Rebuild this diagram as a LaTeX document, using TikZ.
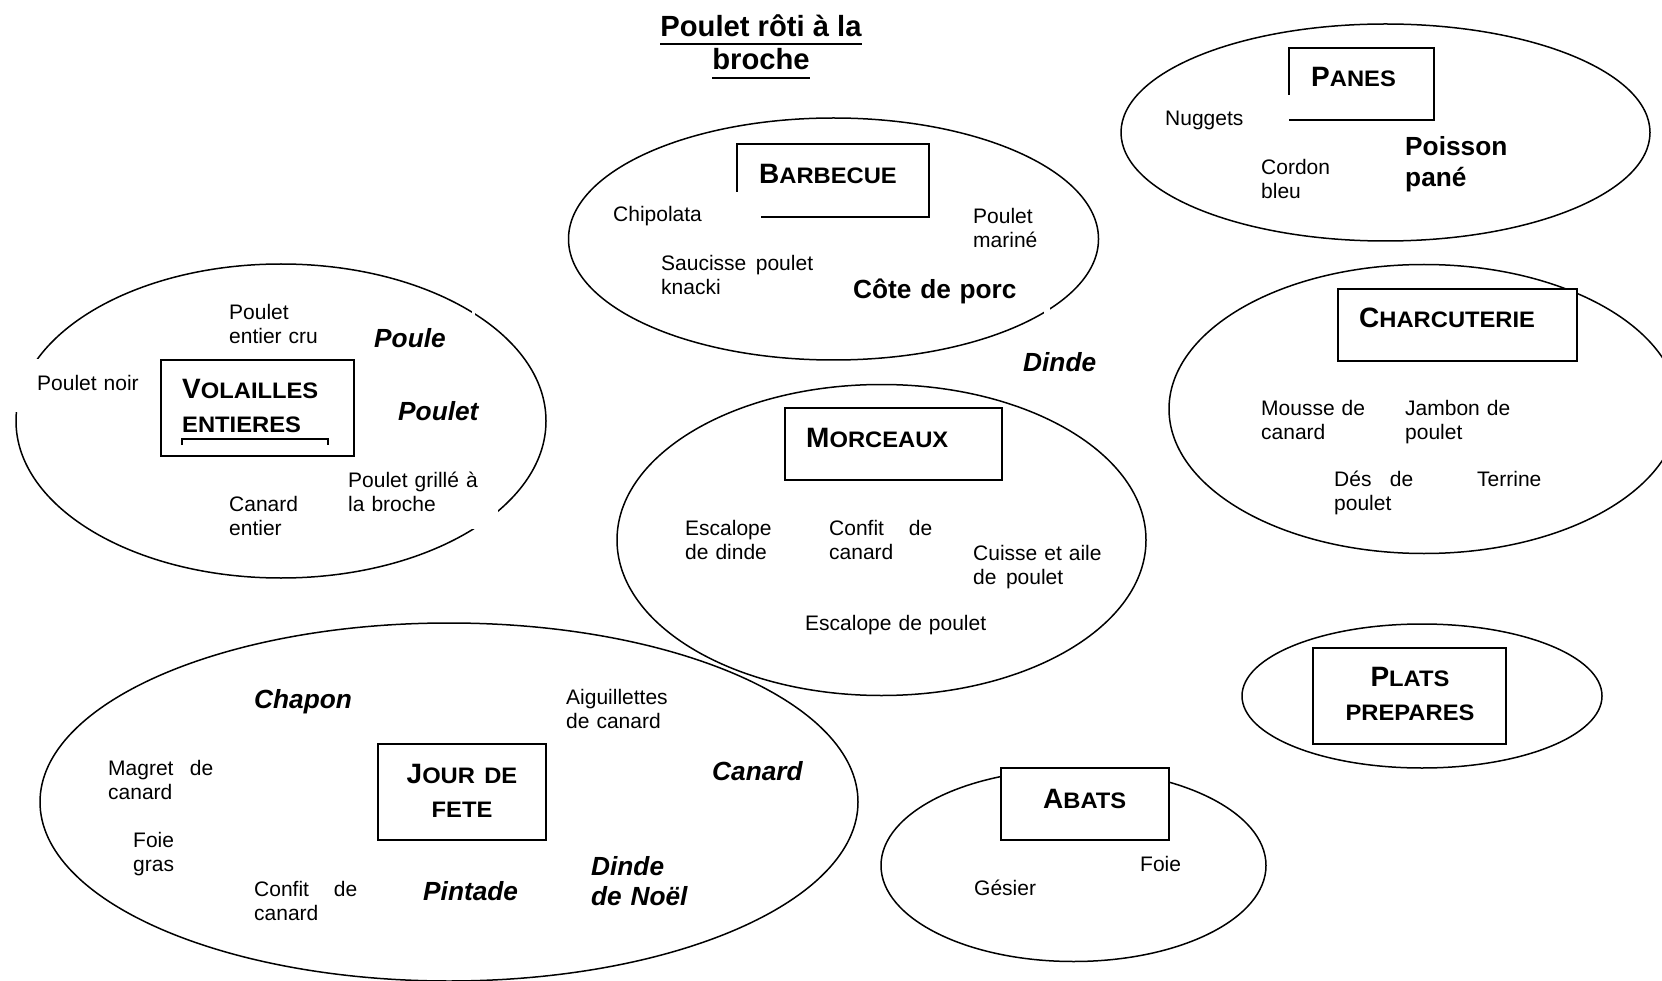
\documentclass[tikz,border=0pt]{standalone}
\usepackage{fontspec}
\setmainfont{Liberation Sans}
\newfontfamily\scf{Liberation Sans}[FakeStretch=1.06]
\usetikzlibrary{shapes.geometric}
\newcommand\hcap[2]{{\fontsize{28}{34.5}\selectfont #1}{\scf\fontsize{22.4}{34.5}\selectfont #2}}
\newcommand\hsmall[1]{{\scf\fontsize{22.4}{34.5}\selectfont #1}}
\tikzset{
  grp/.style={ellipse, draw, line width=1.5pt, inner sep=0pt},
  boxs/.style={draw, fill=white, line width=2pt, inner sep=0pt},
  boxopen/.style={fill=white, inner sep=0pt},
  txt/.style={anchor=base west, inner sep=0pt, align=left, text width=230pt, font=\fontsize{21}{24}\selectfont},
  bd/.style={txt, font=\fontsize{26.25}{30.5}\selectfont\bfseries},
  bi/.style={txt, font=\fontsize{26.25}{30.5}\selectfont\bfseries\itshape},
  hd/.style={anchor=base west, inner sep=0pt, align=left, text width=280pt, font=\bfseries\fontsize{28}{34.5}\selectfont},
  hdc/.style={anchor=base, inner sep=0pt, align=center, text width=220pt, font=\bfseries\fontsize{28}{34.5}\selectfont},
  ttl/.style={anchor=base, inner sep=0pt, font=\fontsize{29.2}{33}\selectfont\bfseries},
  uline/.style={line width=2.4pt},
  gap/.style={white}
}
\begin{document}
\begin{tikzpicture}[x=1pt,y=-1pt]
\fill[white] (0,0) rectangle (1662,981);
\useasboundingbox (0,0) rectangle (1662,981);

% ---------- groups (ellipses)
\node[grp, minimum width=530pt, minimum height=314pt] (evol) at (281,421) {};
\node[grp, minimum width=530pt, minimum height=242pt] (ebbq) at (833.5,239) {};
\node[grp, minimum width=529pt, minimum height=311pt] (emor) at (881.5,540) {};
\node[grp, minimum width=529pt, minimum height=217pt] (epan) at (1385.5,132.5) {};
\node[grp, minimum width=510pt, minimum height=289pt] (echa) at (1424,409) {};
\node[grp, minimum width=360pt, minimum height=144pt] (epla) at (1422,696) {};
\node[grp, minimum width=385pt, minimum height=192pt] (eaba) at (1073.5,865.5) {};
\node[grp, minimum width=818pt, minimum height=358pt] (ejou) at (449,802) {};

% ---------- gaps left by white text boxes
\fill[gap] (0,359) rectangle (150,412);
\fill[gap] (340,470) rectangle (498,529);
\fill[gap] (472,300) rectangle (474.5,320);
\fill[gap] (1044,300) rectangle (1050,320);

% ---------- title boxes
\node[boxs, minimum width=193pt, minimum height=96pt] (bvol) at (257.5,408) {};
\node[boxopen, minimum width=192pt, minimum height=73pt] (bbbq) at (833,180.5) {};
\draw[line width=2pt] (bbbq.north west) ++(0,48) -- (bbbq.north west) -- (bbbq.north east) -- (bbbq.south east) -- ++(-168,0);
\node[boxs, minimum width=217pt, minimum height=72pt] (bmor) at (893.5,444) {};
\node[boxopen, minimum width=145pt, minimum height=72pt] (bpan) at (1361.5,84) {};
\draw[line width=2pt] (bpan.north west) ++(0,47) -- (bpan.north west) -- (bpan.north east) -- (bpan.south east) -- (bpan.south west);
\node[boxs, minimum width=239pt, minimum height=72pt] (bcha) at (1457.5,325) {};
\node[boxs, minimum width=168pt, minimum height=96pt] (bjou) at (462,792) {};
\node[boxs, minimum width=193pt, minimum height=96pt] (bpla) at (1409.5,696) {};
\node[boxs, minimum width=168pt, minimum height=72pt] (baba) at (1085,804) {};

% ---------- headings
\node[hd] (hvol) at (182,398) {\hcap{V}{OLAILLES}\\\hsmall{ENTIERES}};
\coordinate (brl) at (182,445);
\coordinate (brr) at (328,445);
\draw[line width=1.2pt] (brl) -- ++(0,-6) -| (brr);
\node[hd] (hbbq) at (759,184) {\hcap{B}{ARBECUE}};
\node[hd] (hmor) at (806,447) {\hcap{M}{ORCEAUX}};
\node[hd] (hpan) at (1311,87) {\hcap{P}{ANES}};
\node[hd] (hcha) at (1359,328) {\hcap{C}{HARCUTERIE}};
\node[hdc] (hjou) at (462,783) {\hcap{J}{OUR DE}\\\hsmall{FETE}};
\node[hdc] (hpla) at (1410,686) {\hcap{P}{LATS}\\\hsmall{PREPARES}};
\node[hd] (haba) at (1043,808) {\hcap{A}{BATS}};

% ---------- main title
\node[ttl] (t1) at (761,37) {Poulet rôti à la};
\node[ttl] (t2) at (761,70) {broche};
\draw[uline] ([yshift=-7pt]t1.base west) -- ([yshift=-7pt]t1.base east);
\draw[uline] ([yshift=-8pt]t2.base west) -- ([yshift=-8pt]t2.base east);

% ---------- Volailles entieres
\node[txt] (v1) at (229,320) {Poulet\\entier cru};
\node[bi]  (v2) at (374,348) {Poule};
\node[txt] (v3) at (37,390) {Poulet noir};
\node[bi]  (v4) at (398,420) {Poulet};
\node[txt] (v5) at (348,487) {Poulet grillé à\\la broche};
\node[txt] (v6) at (229,511) {Canard\\entier};

% ---------- Barbecue
\node[txt] (b1) at (613,222) {Chipolata};
\node[txt] (b2) at (973,224) {Poulet\\mariné};
\node[txt] (b3) at (661,271) {Saucisse\ \hspace{2.5pt}poulet\\knacki};
\node[bd]  (b4) at (853,299) {Côte de porc};
\node[bi]  (dinde) at (1023,372) {Dinde};

% ---------- Morceaux
\node[txt] (m1) at (685,535) {Escalope\\de dinde};
\node[txt, text width=103pt] (m2) at (829,535) {Confit\hfill de\\canard};
\node[txt] (m3) at (973,560) {Cuisse et aile\\de\ \hspace{2.5pt}poulet};
\node[txt] (m4) at (805,630) {Escalope de poulet};

% ---------- Panes
\node[txt] (p1) at (1165,126) {Nuggets};
\node[txt] (p2) at (1261,175) {Cordon\\bleu};
\node[bd]  (p3) at (1405,156) {Poisson\\pané};

% ---------- Charcuterie
\node[txt] (c1) at (1261,415) {Mousse de\\canard};
\node[txt] (c2) at (1405,415) {Jambon de\\poulet};
\node[txt, text width=79pt] (c3) at (1334,486) {Dés\hfill de\\poulet};
\node[txt] (c4) at (1477,486) {Terrine};

% ---------- Jour de fete
\node[bi]  (j1) at (254,708) {Chapon};
\node[txt] (j2) at (566,704) {Aiguillettes\\de canard};
\node[bi]  (j3) at (712,780) {Canard};
\node[txt, text width=105pt] (j4) at (108,775) {Magret\hfill de\\canard};
\node[txt] (j5) at (133,847) {Foie\\gras};
\node[txt, text width=103pt] (j6) at (254,896) {Confit\hfill de\\canard};
\node[bi]  (j7) at (423,900) {Pintade};
\node[bi]  (j8) at (591,875) {Dinde\\de Noël};

% ---------- Abats
\node[txt] (a1) at (1140,871) {Foie};
\node[txt] (a2) at (974,895) {Gésier};
\end{tikzpicture}
\end{document}
